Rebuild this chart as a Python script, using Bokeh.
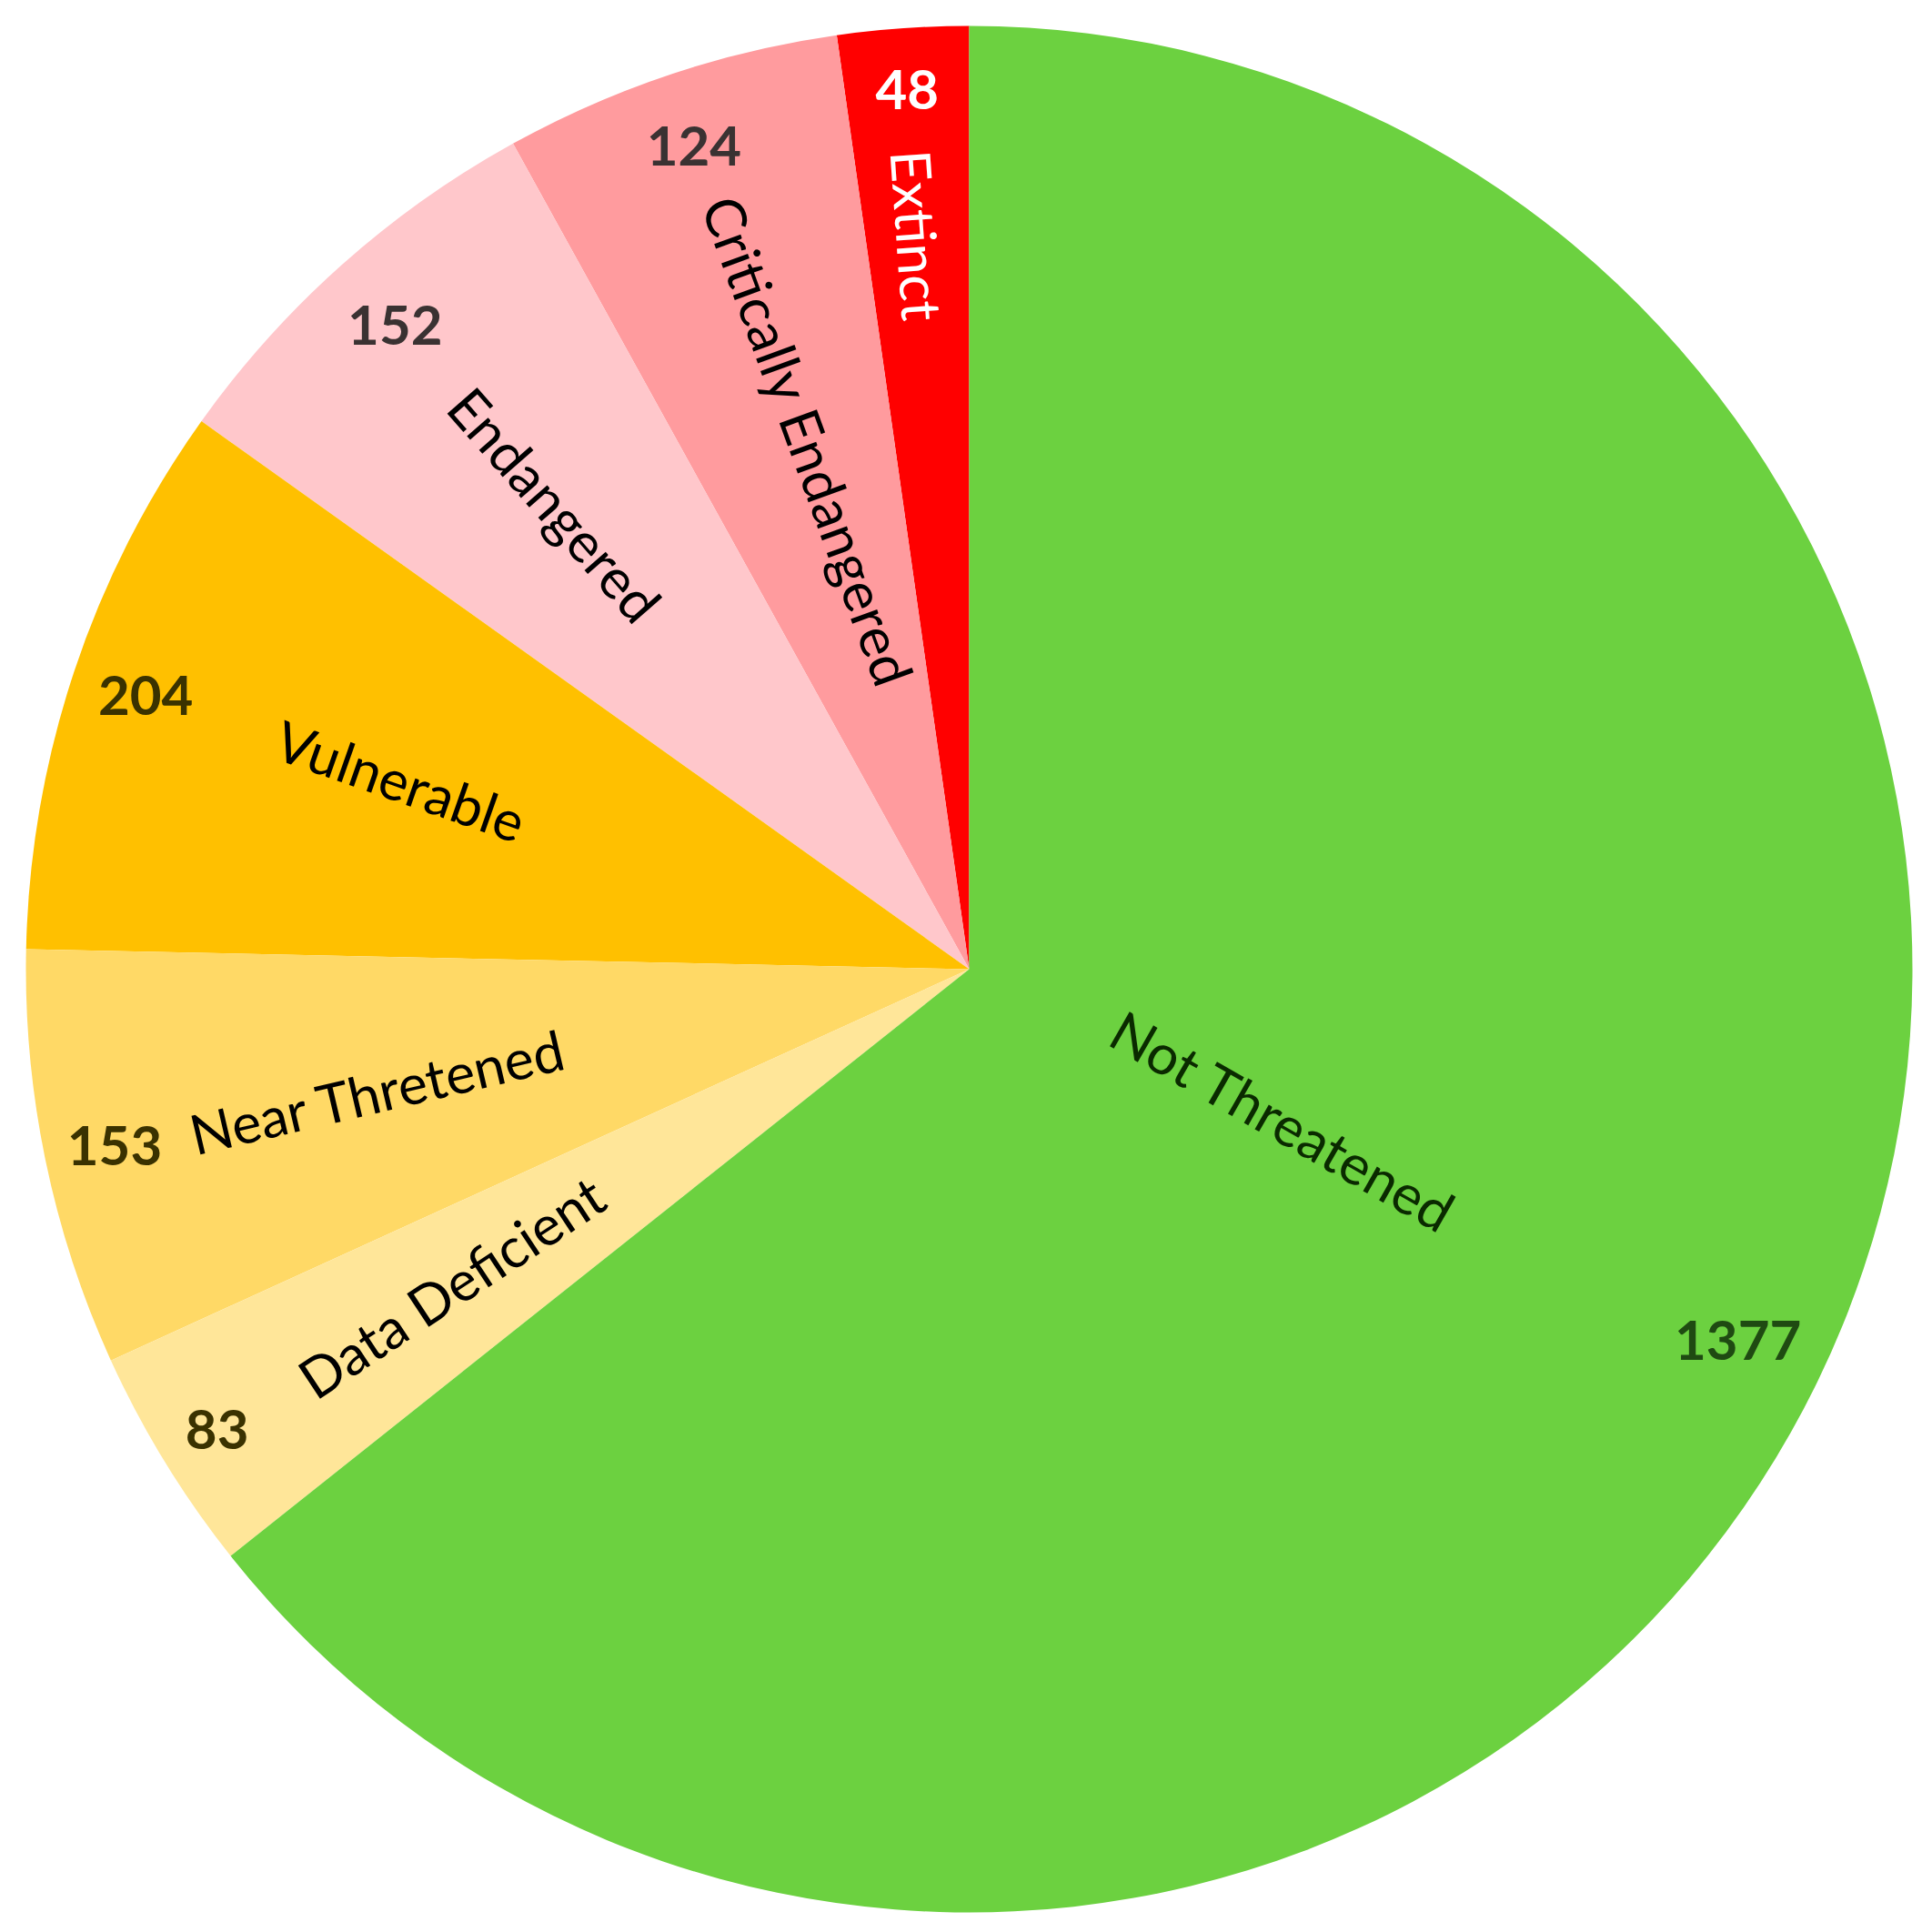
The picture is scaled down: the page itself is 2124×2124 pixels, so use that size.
import math
from bokeh.plotting import figure
from bokeh.models import ColumnDataSource, Range1d
from bokeh.core.properties import value
from bokeh.embed import file_html
from bokeh.resources import INLINE

# Data (counter-clockwise from 12 o'clock)
categories = ["Extinct", "Critically Endangered", "Endangered", "Vulnerable",
              "Near Thretened", "Data Deficient", "Not Threatened"]
counts = [48, 124, 152, 204, 153, 83, 1377]
colors = ["#FF0000", "#FF9B9E", "#FFC7CB", "#FFC000", "#FFD966", "#FFE699", "#6CD140"]

# styling / layout helpers
label_colors = ["#FFFFFF", "#000000", "#000000", "#000000", "#000000", "#000000", "#0A2A00"]
value_colors = ["#FFFFFF", "#3A3232", "#3A3232", "#3A3200", "#3A3200", "#3A3200", "#1F4A12"]
label_r = [0.78, 0.585, 0.66, 0.635, 0.64, 0.644, 0.37]
label_pos_adj = [0, -1.6, 0, 0, 0, 0, 0]
label_rot = [0, 1.5, -0.5, -1.0, 1.5, 2.0, -4.0]
value_r = [0.935, 0.92, 0.915, 0.92, 0.925, 0.935, 0.905]

W = H = 2108
cx, cy, R = 1065, H - 1065, 1037

total = sum(counts)
starts, ends, mids = [], [], []
a = math.pi / 2
for c in counts:
    s = a
    e = a + 2 * math.pi * c / total
    starts.append(s)
    ends.append(e)
    mids.append((s + e) / 2)
    a = e

lx, ly, la, vx, vy, vt = [], [], [], [], [], []
for i, m in enumerate(mids):
    mp = m + math.radians(label_pos_adj[i])
    lx.append(cx + label_r[i] * R * math.cos(mp))
    ly.append(cy + label_r[i] * R * math.sin(mp))
    ang = m
    if math.cos(ang) < 0:
        ang += math.pi
    ang = math.atan2(math.sin(ang), math.cos(ang)) + math.radians(label_rot[i])
    la.append(ang)
    vx.append(cx + value_r[i] * R * math.cos(m))
    vy.append(cy + value_r[i] * R * math.sin(m))
    vt.append(str(counts[i]))

src = ColumnDataSource(dict(start=starts, end=ends, color=colors, cat=categories,
                            lx=lx, ly=ly, la=la, lc=label_colors,
                            vx=vx, vy=vy, vt=vt, vc=value_colors,
                            x=[cx] * len(counts), y=[cy] * len(counts)))

p = figure(width=W, height=H, output_backend="svg", toolbar_location=None,
           x_range=Range1d(0, W), y_range=Range1d(0, H), min_border=0)
p.axis.visible = False
p.grid.visible = False
p.outline_line_color = None
p.background_fill_color = "white"

p.wedge(x="x", y="y", radius=R, radius_units="data", start_angle="start", end_angle="end",
        direction="anticlock", fill_color="color", line_color=None, source=src)

p.text(x="lx", y="ly", text="cat", angle="la", text_color="lc",
       text_font=value("Lato"), text_font_size="61px",
       text_align="center", text_baseline="middle", source=src)
p.text(x="vx", y="vy", text="vt", text_color="vc",
       text_font=value("Lato"), text_font_size="60px", text_font_style="bold",
       text_align="center", text_baseline="middle", source=src)

open("out.html", "w").write(file_html(p, INLINE))
